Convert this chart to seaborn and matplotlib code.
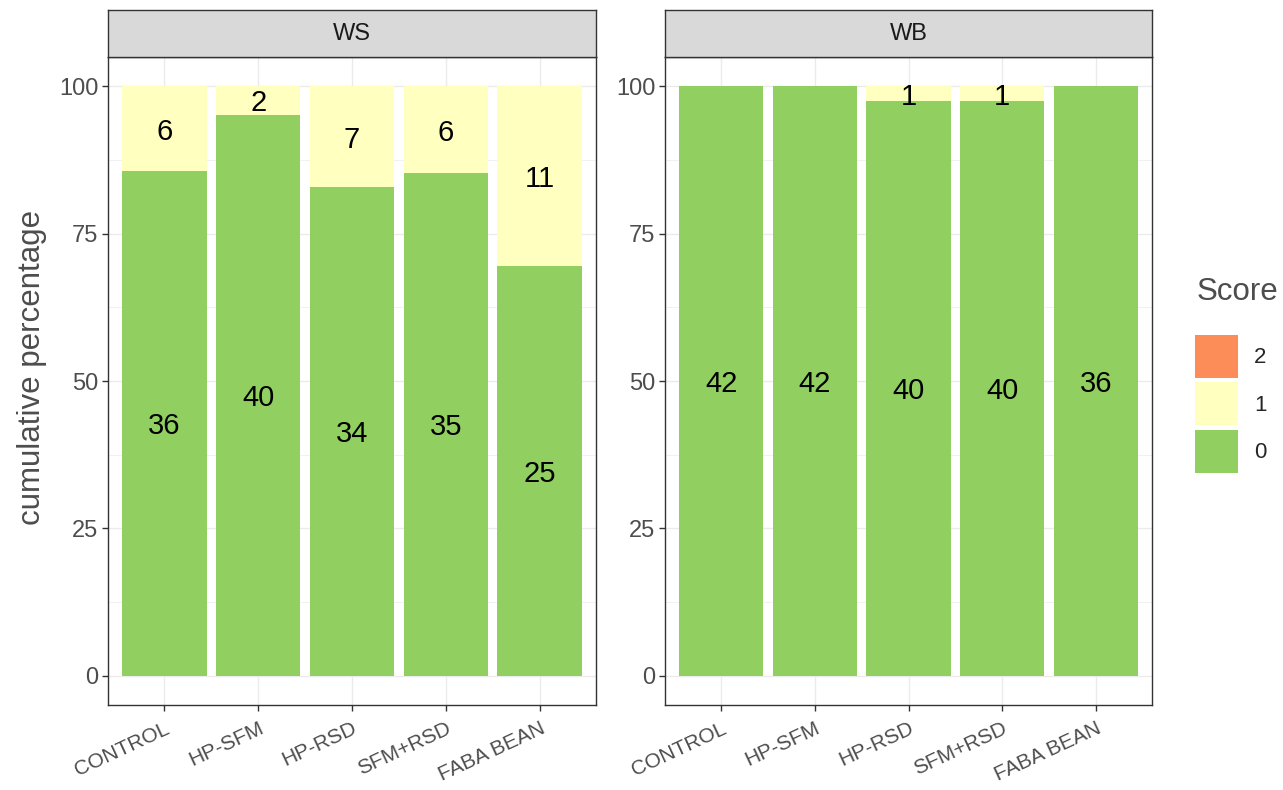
import numpy as np
import pandas as pd
import matplotlib
matplotlib.use("Agg")
import matplotlib.pyplot as plt
import seaborn as sns
from matplotlib.patches import Patch

treatments = ["CONTROL", "HP-SFM", "HP-RSD", "SFM+RSD", "FABA BEAN"]
facets = ["WS", "WB"]
scores = ["0", "1", "2"]

# counts per score, per facet
ws_score0 = [36, 40, 34, 35, 25]
ws_score1 = [6, 2, 7, 6, 11]
ws_score2 = [0, 0, 0, 0, 0]
wb_score0 = [42, 42, 40, 40, 36]
wb_score1 = [0, 0, 1, 1, 0]
wb_score2 = [0, 0, 0, 0, 0]

counts = {
    "WS": [ws_score0, ws_score1, ws_score2],
    "WB": [wb_score0, wb_score1, wb_score2],
}
score_colors = {"0": "#91CF60", "1": "#FFFFBF", "2": "#FC8D59"}

sns.set_style("white")
plt.rcParams["font.family"] = ["Liberation Sans", "DejaVu Sans"]

fig = plt.figure(figsize=(12.83, 7.90), dpi=100)
W, H = 1283, 790
panels = {"WS": (108, 596), "WB": (665, 1152)}
top, bottom, strip_top = 57, 705, 10

grey20 = "#333333"
grey30 = "#4D4D4D"

for facet in facets:
    x0, x1 = panels[facet]
    ax = fig.add_axes([x0 / W, 1 - bottom / H, (x1 - x0) / W, (bottom - top) / H])
    sax = fig.add_axes([x0 / W, 1 - top / H, (x1 - x0) / W, (top - strip_top) / H])

    c = np.array(counts[facet], dtype=float)
    totals = c.sum(axis=0)
    pct = c / totals * 100
    cum = np.cumsum(pct, axis=0)

    # draw from the top layer down so lower layers sit in front
    for i in range(len(scores) - 1, -1, -1):
        if c[i].sum() == 0:
            continue
        df = pd.DataFrame({"treatment": treatments, "cum": cum[i]})
        sns.barplot(data=df, x="treatment", y="cum", order=treatments,
                    color=score_colors[scores[i]], saturation=1, width=0.9,
                    ax=ax, zorder=2, linewidth=0)

    for i in range(len(scores)):
        for j in range(len(treatments)):
            if c[i, j] > 0:
                mid = cum[i, j] - pct[i, j] / 2
                ax.text(j, mid, f"{int(c[i, j])}", ha="center", va="center_baseline",
                        fontsize=21, color="black", zorder=3)

    ax.set_xlim(-0.6, len(treatments) - 0.4)
    ax.set_ylim(-5, 105)
    ax.set_yticks([0, 25, 50, 75, 100])
    ax.set_yticks([12.5, 37.5, 62.5, 87.5], minor=True)
    ax.grid(True, which="major", color="#EBEBEB", linewidth=1.0, zorder=0)
    ax.grid(True, which="minor", axis="y", color="#EBEBEB", linewidth=0.5, zorder=0)
    ax.set_axisbelow(True)
    ax.set_xlabel("")
    ax.set_ylabel("")
    ax.set_xticks(range(len(treatments)))
    ax.set_xticklabels(treatments, rotation=25, ha="right", rotation_mode="anchor",
                       fontsize=15, color=grey30)
    ax.tick_params(axis="y", labelsize=17, labelcolor=grey30, pad=3)
    ax.tick_params(axis="x", pad=6)
    ax.tick_params(axis="both", which="major", length=4, width=1, color=grey20,
                   direction="out", left=True, bottom=True)
    ax.tick_params(axis="y", which="minor", length=0)
    for s in ax.spines.values():
        s.set_color(grey20)
        s.set_linewidth(1.0)

    sax.set_facecolor("#D9D9D9")
    sax.set_xticks([])
    sax.set_yticks([])
    for s in sax.spines.values():
        s.set_color(grey20)
        s.set_linewidth(1.0)
    sax.text(0.5, 0.5, facet, ha="center", va="center", fontsize=17,
             color="#1A1A1A", transform=sax.transAxes)

fig.text(32 / W, 1 - 367 / H, "cumulative percentage", rotation=90,
         ha="center", va="center", fontsize=22.5, color=grey30)

fig.text(1197 / W, 1 - 292 / H, "Score", ha="left", va="center",
         fontsize=22.5, color=grey30)
handles = [Patch(facecolor=score_colors[s], edgecolor="none") for s in ["2", "1", "0"]]
leg = fig.legend(handles, ["2", "1", "0"], loc="upper left",
                 bbox_to_anchor=(1195 / W, 1 - 335 / H), frameon=False,
                 fontsize=16, handlelength=1.95, handleheight=2.6,
                 labelspacing=0.2, handletextpad=0.7,
                 borderpad=0, borderaxespad=0)

fig.savefig("out.png", dpi=100)
